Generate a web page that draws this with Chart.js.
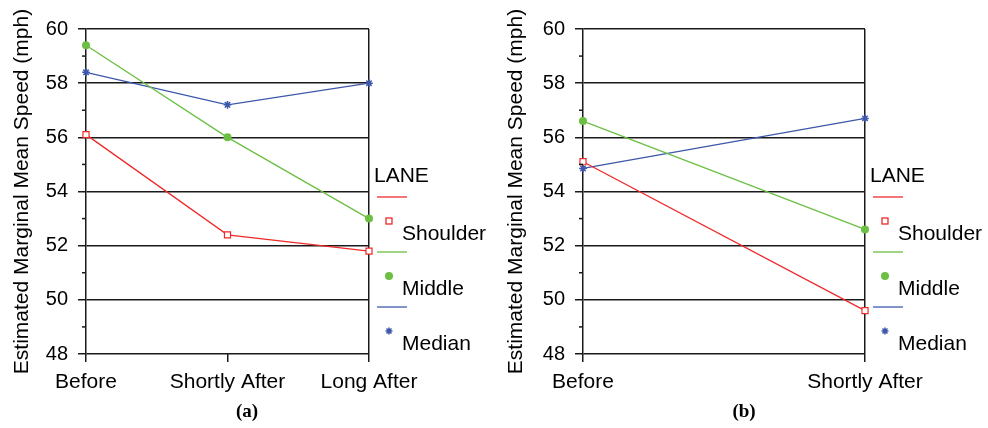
<!DOCTYPE html>
<html>
<head>
<meta charset="utf-8">
<script src="https://cdn.jsdelivr.net/npm/chart.js@4.4.1/dist/chart.umd.min.js"></script>
<style>
    body { margin: 0; background: #fff; }
    #wrap { position: relative; width: 988px; height: 428px; }
    .panel { position: absolute; top: 0; width: 494px; height: 428px; }
    .caption { position: absolute; top: 400px; width: 40px; text-align: center;
        font: bold 19px 'Liberation Serif', 'Times New Roman', serif; color: #000; }
</style>
</head>
<body>
<div id="wrap">
    <div class="panel" style="left:0"><canvas id="chartA"></canvas></div>
    <div class="panel" style="left:494px"><canvas id="chartB"></canvas></div>
    <div class="caption" style="left:227px">(a)</div>
    <div class="caption" style="left:724px">(b)</div>
</div>
<script>
// panel (a)
const categoriesA = ['Before', 'Shortly After', 'Long After'];
const shoulderA = [56.1, 52.4, 51.8];
const middleA = [59.4, 56.0, 53.0];
const medianA = [58.4, 57.2, 58.0];

// panel (b)
const categoriesB = ['Before', 'Shortly After'];
const shoulderB = [55.1, 49.6];
const middleB = [56.6, 52.6];
const medianB = [54.85, 56.7];

const laneNames = ['Shoulder', 'Middle', 'Median'];
const laneColors = ['#ee2a2a', '#6cbf43', '#3d58ab'];
const yMin = 48, yMax = 60, yStep = 2;
const yTitle = 'Estimated Marginal Mean Speed (mph)';

const fontFamily = "'Liberation Sans', Arial, sans-serif";
const axisColor = '#1a1a1a';

// small ticks at the odd values, left of the axis
const minorTicks = {
    id: 'minorTicks',
    afterDraw(chart) {
        let y = chart.scales.y;
        let ctx = chart.ctx;
        ctx.save();
        ctx.strokeStyle = axisColor;
        ctx.lineWidth = 1.5;
        for (let v = yMin + 1; v < yMax; v += yStep) {
            let py = y.getPixelForValue(v);
            ctx.beginPath();
            ctx.moveTo(chart.chartArea.left - 4, py);
            ctx.lineTo(chart.chartArea.left, py);
            ctx.stroke();
        }
        ctx.restore();
    }
};

// the LANE legend: line sample, marker below it, name below right
const laneLegend = {
    id: 'laneLegend',
    afterDraw(chart) {
        let ctx = chart.ctx;
        let x0 = chart.chartArea.right + 5;
        let top = chart.chartArea.top;
        ctx.save();
        ctx.fillStyle = '#000';
        ctx.font = '21px ' + fontFamily;
        ctx.textBaseline = 'alphabetic';
        ctx.fillText('LANE', x0, top + 153);
        chart.data.datasets.forEach(function (ds, i) {
            let ly = top + 168 + 55 * i;
            ctx.strokeStyle = ds.borderColor;
            ctx.lineWidth = 1.3;
            ctx.beginPath();
            ctx.moveTo(x0 + 3, ly);
            ctx.lineTo(x0 + 33, ly);
            ctx.stroke();

            let mx = x0 + 15, my = top + 192 + 55 * i;
            if (ds.pointStyle === 'rect') {
                ctx.fillStyle = '#fff';
                ctx.fillRect(mx - 3, my - 3, 6, 6);
                ctx.strokeRect(mx - 3, my - 3, 6, 6);
            } else if (ds.pointStyle === 'circle') {
                ctx.fillStyle = ds.borderColor;
                ctx.beginPath();
                ctx.arc(mx, my, 4, 0, Math.PI * 2);
                ctx.fill();
            } else {
                ctx.lineWidth = 1.5;
                ctx.beginPath();
                for (let a = 0; a < 4; a++) {
                    let ang = a * Math.PI / 4;
                    ctx.moveTo(mx - 3.5 * Math.cos(ang), my - 3.5 * Math.sin(ang));
                    ctx.lineTo(mx + 3.5 * Math.cos(ang), my + 3.5 * Math.sin(ang));
                }
                ctx.stroke();
            }
            ctx.fillStyle = '#000';
            ctx.fillText(laneNames[i], x0 + 28, top + 211 + 55 * i);
        });
        ctx.restore();
    }
};

function laneDatasets(shoulder, middle, median) {
    return [{
        label: laneNames[0],
        data: shoulder,
        borderColor: laneColors[0],
        backgroundColor: '#fff',
        pointStyle: 'rect',
        pointRadius: 4.3,
        pointBorderWidth: 1.2
    }, {
        label: laneNames[1],
        data: middle,
        borderColor: laneColors[1],
        backgroundColor: laneColors[1],
        pointStyle: 'circle',
        pointRadius: 4,
        pointBorderWidth: 0
    }, {
        label: laneNames[2],
        data: median,
        borderColor: laneColors[2],
        backgroundColor: laneColors[2],
        pointStyle: 'star',
        pointRadius: 3.8,
        pointBorderWidth: 1.5
    }];
}

function makePanel(canvasId, categories, datasets, leftWidth, rightPad) {
    let last = categories.length - 1;
    return new Chart(document.getElementById(canvasId), {
        type: 'line',
        data: { labels: categories, datasets: datasets },
        options: {
            responsive: false,
            animation: false,
            devicePixelRatio: 1,
            elements: { line: { borderWidth: 1.3, tension: 0 } },
            layout: { padding: { left: 0, right: rightPad, top: 29, bottom: 0 } },
            scales: {
                x: {
                    offset: false,
                    ticks: { color: '#000', padding: 8, maxRotation: 0, autoSkip: false,
                        font: { family: fontFamily, size: 21 } },
                    grid: {
                        color: (c) => c.index === last ? axisColor : 'transparent',
                        tickColor: axisColor,
                        lineWidth: 1.5,
                        tickLength: 8
                    },
                    border: { display: false },
                    afterFit: (s) => { s.height = 74; }
                },
                y: {
                    min: yMin,
                    max: yMax,
                    ticks: { stepSize: yStep, color: '#000', padding: 10,
                        font: { family: fontFamily, size: 20 } },
                    grid: { color: axisColor, lineWidth: 1.5, tickLength: 8 },
                    border: { display: true, color: axisColor, width: 1.5 },
                    title: { display: true, text: yTitle, color: '#000',
                        font: { family: fontFamily, size: 21 },
                        padding: { top: 10, bottom: 0 } },
                    afterFit: (s) => { s.width = leftWidth; }
                }
            },
            plugins: {
                legend: { display: false },
                tooltip: { enabled: false }
            }
        },
        plugins: [minorTicks, laneLegend]
    });
}

document.getElementById('chartA').width = 494;
document.getElementById('chartA').height = 428;
document.getElementById('chartB').width = 494;
document.getElementById('chartB').height = 428;

makePanel('chartA', categoriesA, laneDatasets(shoulderA, middleA, medianA), 86, 125);
makePanel('chartB', categoriesB, laneDatasets(shoulderB, middleB, medianB), 89, 123);
</script>
</body>
</html>
